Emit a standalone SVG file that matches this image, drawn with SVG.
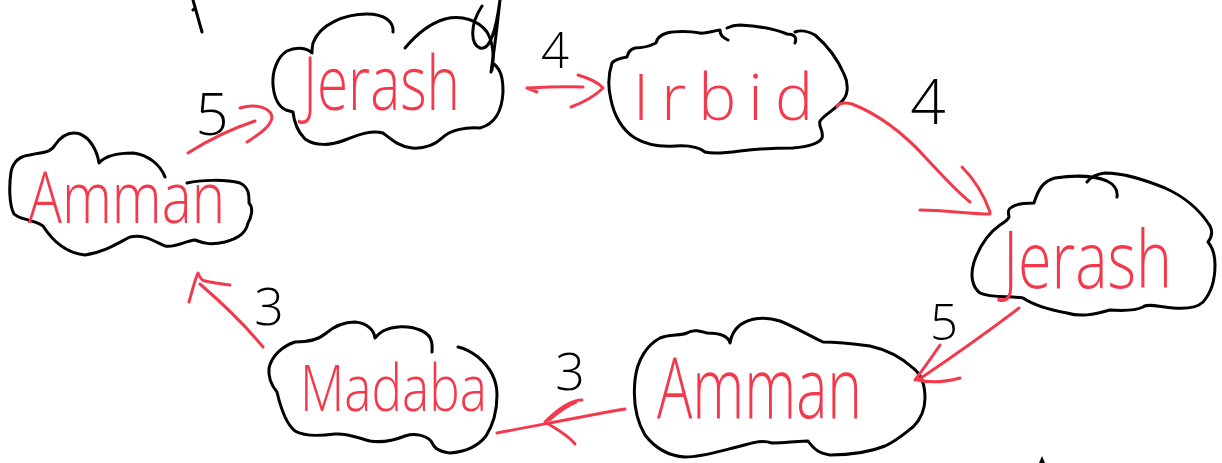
<svg xmlns="http://www.w3.org/2000/svg" width="1222" height="463" viewBox="0 0 1222 463">
  <style>
    .cloud { fill: none; stroke: #000; stroke-width: 3; stroke-linecap: round; stroke-linejoin: round; }
    .ink { fill: none; stroke: #f23a4c; stroke-width: 3; stroke-linecap: round; stroke-linejoin: round; }
    .city { fill: #f23a4c; font-family: "Open Sans", "Liberation Sans", sans-serif; font-weight: 300; }
    .num { fill: #000; font-family: "Open Sans", "Liberation Sans", sans-serif; font-weight: 300; text-anchor: middle; }
  </style>
  <rect width="1222" height="463" fill="#fff"/>

  <!-- stray pen marks -->
  <g id="marks">
    <path class="cloud" d="M193,0 L202,32 M193,10 L195,8"/>
    <path class="cloud" d="M482,6 C470,24 470,44 480,48 C490,51 496,30 500,0 M500,0 C497,28 494,52 491,72"/>
    <path d="M1039,463 L1042,456 L1045,463 Z" fill="#000"/>
  </g>

  <!-- Jerash (top) -->
  <g id="node-jerash-1">
    <path class="cloud" d="M393,32 C394,22 385,14 367,14 C345,14 320,24 313,43 C312,47 312,50 312,53 C306,47 295,47 287,51 C277,57 272,72 273,85 C274,97 277,106 286,110 L293,112 C294,122 298,132 305,139 C315,146 330,146 345,140 C360,134 372,130 383,133 C392,140 400,147 412,148 C425,149 436,144 442,138 C450,130 465,127 480,128 C495,124 502,112 503,92 C503,78 501,70 494,64"/>
    <path class="cloud" d="M405,48 C415,36 428,24 445,19 C462,15 478,20 487,32 C493,42 494,57 492,70"/>
    <text class="city" x="303" y="110" font-size="76" textLength="157" lengthAdjust="spacingAndGlyphs">Jerash</text>
  </g>

  <!-- Irbid -->
  <g id="node-irbid">
    <path class="cloud" d="M728,40 C724,38 720,36 720,30 C712,31 705,34 700,33 C690,31 675,31 667,33 C660,35 657,38 656,43 C650,46 642,48 635,48 C630,49 628,53 627,57 C622,58 615,59 612,63 C608,75 608,88 611,100 C614,115 622,130 635,138 C645,144 660,147 675,146 C690,145 700,148 705,152 C712,154 725,153 740,151 C755,149 775,148 793,148 C805,147 818,145 822,138 C824,130 818,127 820,121 C825,114 835,110 843,100 C849,93 848,82 844,74 C837,58 828,46 815,35 C808,31 800,30 795,32"/>
    <path class="cloud" d="M795,43 C797,38 795,34 787,34 C775,29 758,26 740,25 C734,25 729,27 727,28"/>
    <text class="city" x="633" y="120" font-size="64" textLength="180" lengthAdjust="spacing">Irbid</text>
  </g>

  <!-- Jerash (right) -->
  <g id="node-jerash-2">
    <path class="cloud" d="M1117,197 C1118,190 1115,185 1107,181 C1095,176 1075,175 1055,178 C1043,181 1038,190 1034,203 C1026,203 1016,204 1012,207 C1006,210 1009,214 1009,217 C1008,220 1005,222 1000,225 C990,232 980,245 974,262 C970,275 972,287 980,293 C990,298 1010,296 1023,298 C1032,304 1045,309 1067,313 C1080,317 1093,315 1110,310 C1125,311 1137,310 1143,307 C1147,303 1160,307 1173,308 C1185,309 1197,308 1203,302 C1212,292 1215,280 1215,265 C1215,255 1213,248 1208,242 C1212,237 1213,232 1210,226 C1200,210 1185,197 1165,188 C1145,180 1125,173 1105,173 C1096,174 1090,178 1087,182"/>
    <text class="city" x="1003" y="288" font-size="80" textLength="169" lengthAdjust="spacingAndGlyphs">Jerash</text>
  </g>

  <!-- Amman (left) -->
  <g id="node-amman-1">
    <path class="cloud" d="M187,183 C200,180 225,179 240,183 C250,188 249,197 249,203 C254,208 251,218 248,223 C246,232 240,238 225,242 C212,245 205,244 195,240 C185,241 175,248 165,246 C152,240 143,234 130,237 C118,243 105,252 85,255 C65,253 52,240 43,226 C33,219 20,220 14,214 C9,205 9,185 11,172 C13,162 20,156 30,155 C40,152 50,154 55,145 C62,135 70,131 80,134 C90,138 97,150 99,163 C105,156 118,153 133,153 C148,155 160,164 165,177"/>
    <text class="city" x="28" y="223" font-size="72" textLength="197" lengthAdjust="spacingAndGlyphs">Amman</text>
  </g>

  <!-- Madaba -->
  <g id="node-madaba">
    <path class="cloud" d="M432,352 C433,340 430,334 420,330 C408,325 393,326 383,331 C378,334 376,337 375,338 C374,330 367,323 355,322 C343,322 333,327 325,334 C318,340 305,342 295,342 C283,346 272,355 269,368 C268,378 272,386 277,392 C280,405 285,423 295,431 C305,437 320,436 335,434 C348,433 358,438 370,441 C383,443 395,440 405,436 C415,433 425,435 431,441 C434,447 436,451 450,453 C465,452 478,446 486,436 C493,425 497,410 497,395 C497,380 490,367 478,357 C470,351 463,348 458,347"/>
    <text class="city" x="300" y="411" font-size="64" textLength="187" lengthAdjust="spacingAndGlyphs">Madaba</text>
  </g>

  <!-- Amman (bottom) -->
  <g id="node-amman-2">
    <path class="cloud" d="M823,342 C810,336 795,327 780,321 C765,316 750,318 740,325 C734,330 731,336 730,343 C728,335 718,333 707,333 C700,331 693,329 687,333 C680,336 670,334 660,338 C647,345 637,360 635,380 C633,400 636,420 645,435 C655,448 668,456 685,457 C703,457 720,451 737,447 C750,444 760,439 772,443 C785,443 800,441 808,441 C812,446 816,453 830,455 C848,455 870,452 885,446 C898,440 906,432 913,427 C920,420 925,410 925,398 C925,385 922,375 913,368 C902,358 888,350 870,346 C855,344 838,342 823,342"/>
    <text class="city" x="657" y="418" font-size="84" textLength="205" lengthAdjust="spacingAndGlyphs">Amman</text>
  </g>

  <!-- connectors with their weights -->
  <g id="connectors">
    <!-- Amman to Jerash -->
    <path class="ink" d="M188,153 C210,139 234,128 255,121"/>
    <path class="ink" d="M240,108 C256,103 272,108 272,118 C270,128 256,136 247,142"/>
    <!-- Jerash to Irbid -->
    <path class="ink" d="M537,92 L527,88 C545,87 565,86 583,87"/>
    <path class="ink" d="M578,75 C588,78 598,82 603,88 C595,96 582,103 571,107"/>
    <!-- Irbid to Jerash -->
    <path class="ink" d="M837,107 C838,103 845,102 852,104 C880,115 905,135 925,157 C940,173 955,190 970,202"/>
    <path class="ink" d="M962,167 C975,180 985,198 990,212 M920,210 C945,210 970,214 990,214"/>
    <!-- Jerash to Amman -->
    <path class="ink" d="M1019,308 C990,330 955,355 918,380"/>
    <path class="ink" d="M940,345 C932,357 924,368 915,380 M918,380 C930,383 945,382 960,378"/>
    <!-- Amman to Madaba -->
    <path class="ink" d="M625,409 C590,415 540,425 497,433"/>
    <path class="ink" d="M582,400 C570,400 555,412 545,422 C555,428 568,435 575,444 M576,402 C566,406 556,414 549,420"/>
    <!-- Madaba to Amman -->
    <path class="ink" d="M263,347 C245,325 222,303 200,284"/>
    <path class="ink" d="M189,302 C192,292 194,282 198,273 C200,278 202,281 205,281 C214,283 222,284 230,285"/>

    <text class="num" x="212" y="135" font-size="58">5</text>
    <text class="num" x="555" y="68" font-size="49">4</text>
    <text class="num" x="928" y="124" font-size="62">4</text>
    <text class="num" x="944" y="340" font-size="49">5</text>
    <text class="num" x="269" y="325" font-size="52">3</text>
    <text class="num" x="570" y="390" font-size="52">3</text>
  </g>
</svg>
